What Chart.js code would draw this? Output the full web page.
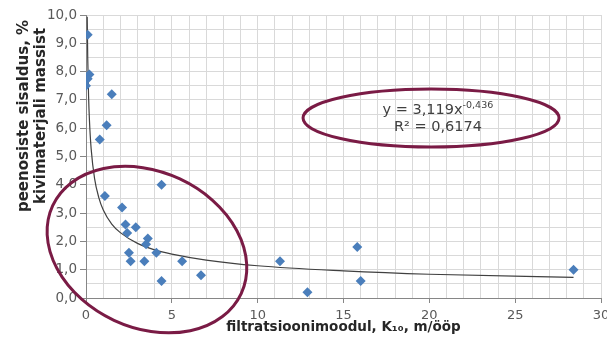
<!DOCTYPE html>
<html lang="et">
<head>
<meta charset="UTF-8">
<title>Peenosiste sisaldus vs filtratsioonimoodul</title>
<script src="https://cdn.jsdelivr.net/npm/chart.js"></script>
<style>
  body { margin: 0; background: #fff; }
  #wrap { width: 607px; height: 339px; position: relative; }
</style>
</head>
<body>
<div id="wrap"><canvas id="chart"></canvas></div>
<script>
// measured points (K10 in m/day, fines content %)
const kValues     = [0.1, 0.2, 0.1, 0.0, 1.5, 1.2, 0.8, 1.1, 4.4, 2.1, 2.3, 2.4, 2.9, 3.6, 3.5, 2.5, 2.6, 3.4, 4.1, 4.4, 5.6, 6.7, 11.3, 12.9, 15.8, 16.0, 28.4];
const fineContent = [9.3, 7.9, 7.75, 7.5, 7.2, 6.1, 5.6, 3.6, 4.0, 3.2, 2.6, 2.3, 2.5, 2.1, 1.9, 1.6, 1.3, 1.3, 1.6, 0.6, 1.3, 0.8, 1.3, 0.2, 1.8, 0.6, 1.0];

// power trendline
const trendX = [0.07, 0.1, 0.15, 0.2, 0.3, 0.5, 0.75, 1, 1.5, 2, 3, 4, 5, 7, 10, 15, 20, 28.4];
const trendY = [9.94, 8.51, 7.13, 6.29, 5.27, 4.22, 3.54, 3.12, 2.61, 2.31, 1.93, 1.70, 1.55, 1.34, 1.14, 0.96, 0.84, 0.73];

const eqLine = ['y = 3,119x', '-0,436'];
const r2Line = 'R² = 0,6174';
const yTitle = ['peenosiste sisaldus, %', 'kivimaterjali massist'];
const xTitle = 'filtratsioonimoodul, K₁₀, m/ööp';

const points = kValues.map((x, i) => ({ x: x, y: fineContent[i] }));
const trend = trendX.map((x, i) => ({ x: x, y: trendY[i] }));

const maroon = '#7a1b45';
const font = 'DejaVu Sans';

// annotations: ellipses and equation text, y axis title
const extras = {
  id: 'extras',
  afterDraw(chart) {
    const c = chart.ctx;
    const xs = chart.scales.x, ys = chart.scales.y;
    c.save();

    // ellipse around the cluster
    c.strokeStyle = maroon;
    c.lineWidth = 3;
    c.beginPath();
    c.ellipse(xs.getPixelForValue(3.55), ys.getPixelForValue(1.71), 104, 78, 25 * Math.PI / 180, 0, Math.PI * 2);
    c.stroke();

    // ellipse around the equation
    c.beginPath();
    c.ellipse(xs.getPixelForValue(20.1), ys.getPixelForValue(6.36), 128, 29, 0, 0, Math.PI * 2);
    c.stroke();

    // equation
    c.fillStyle = '#404040';
    c.textBaseline = 'alphabetic';
    const cx = xs.getPixelForValue(20.5);
    const y1 = ys.getPixelForValue(6.36) - 4;
    c.font = '14.5px ' + font;
    const w1 = c.measureText(eqLine[0]).width;
    c.font = '9.5px ' + font;
    const w2 = c.measureText(eqLine[1]).width;
    let sx = cx - (w1 + w2) / 2;
    c.font = '14.5px ' + font;
    c.textAlign = 'left';
    c.fillText(eqLine[0], sx, y1);
    c.font = '9.5px ' + font;
    c.fillText(eqLine[1], sx + w1, y1 - 6);
    c.font = '14.5px ' + font;
    c.textAlign = 'center';
    c.fillText(r2Line, cx, y1 + 17);

    // y axis title, two lines rotated
    c.fillStyle = '#262626';
    c.font = 'bold 15px ' + font;
    c.translate(0, 116);
    c.rotate(-Math.PI / 2);
    c.textBaseline = 'middle';
    c.fillText(yTitle[0], 0, 24);
    c.fillText(yTitle[1], 0, 41);
    c.restore();
  }
};

new Chart(document.getElementById('chart'), {
  type: 'scatter',
  data: {
    datasets: [
      {
        label: 'mõõdetud',
        data: points,
        pointStyle: 'rectRot',
        pointRadius: 5,
        pointHoverRadius: 5,
        backgroundColor: '#4a7ebb',
        borderColor: '#4a7ebb',
        borderWidth: 0,
        order: 1
      },
      {
        type: 'line',
        label: 'trend',
        data: trend,
        borderColor: '#404040',
        borderWidth: 1.2,
        pointRadius: 0,
        cubicInterpolationMode: 'monotone',
        fill: false,
        order: 2
      }
    ]
  },
  options: {
    responsive: true,
    maintainAspectRatio: false,
    animation: false,
    layout: { padding: { top: 15, right: 6, left: 0, bottom: 0 } },
    plugins: { legend: { display: false }, tooltip: { enabled: false } },
    scales: {
      x: {
        type: 'linear',
        min: 0, max: 30,
        afterFit: s => { s.height = 41; s.paddingRight = 0; },
        ticks: {
          stepSize: 1,
          autoSkip: false,
          maxRotation: 0,
          padding: 5,
          color: '#595959',
          font: { family: font, size: 13 },
          callback: v => (v % 5 === 0 ? String(v) : '')
        },
        grid: {
          color: '#d9d9d9',
          tickLength: 5,
          tickColor: ctx => (ctx.tick && ctx.tick.value % 5 === 0 ? '#868686' : 'rgba(0,0,0,0)')
        },
        border: { color: '#868686' },
        title: {
          display: true,
          text: xTitle,
          color: '#262626',
          font: { family: font, size: 13.5, weight: 'bold' },
          padding: { top: 0, bottom: 3 }
        }
      },
      y: {
        min: 0, max: 10,
        afterFit: s => { s.width = 86; },
        ticks: {
          stepSize: 0.5,
          autoSkip: false,
          padding: 3,
          color: '#595959',
          font: { family: font, size: 13.5 },
          callback: v => (Number.isInteger(v) ? v.toFixed(1).replace('.', ',') : '')
        },
        grid: {
          color: '#d9d9d9',
          tickLength: 6,
          tickColor: ctx => (ctx.tick && Number.isInteger(ctx.tick.value) ? '#868686' : 'rgba(0,0,0,0)')
        },
        border: { color: '#868686' }
      }
    }
  },
  plugins: [extras]
});
</script>
</body>
</html>
